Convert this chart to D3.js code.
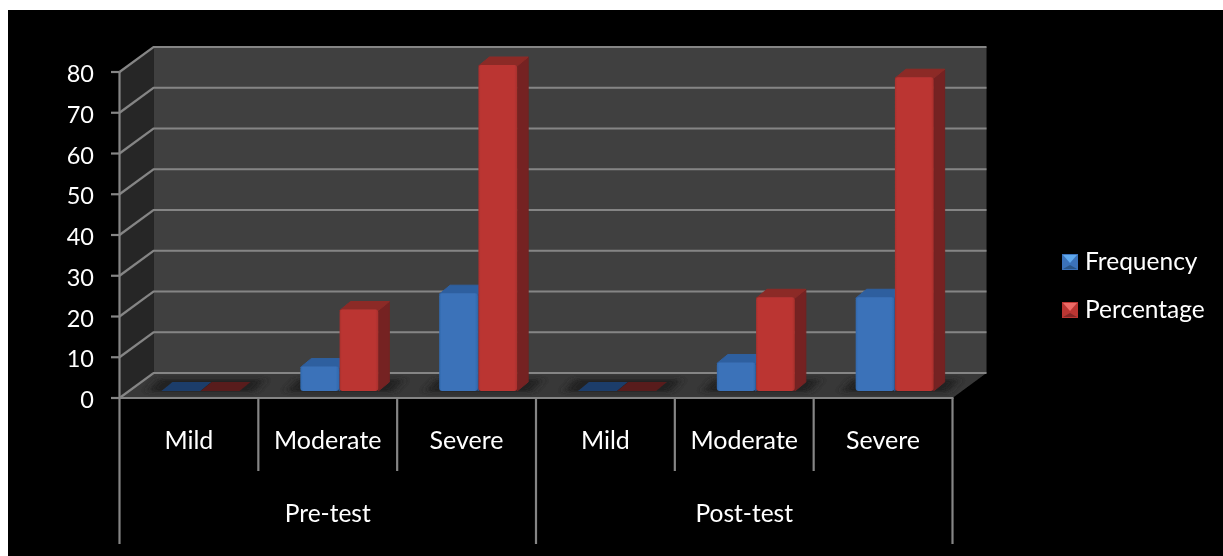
<!DOCTYPE html>
<html>
<head>
<meta charset="utf-8">
<script src="https://cdnjs.cloudflare.com/ajax/libs/d3/7.8.5/d3.min.js"></script>
<style>
  html, body { margin: 0; padding: 0; background: #fff; }
  svg { display: block; }
  text { font-family: Lato, "Open Sans", sans-serif; fill: #fff; }
</style>
</head>
<body>
<svg id="chart" width="1223" height="556"></svg>
<script>
const groups = ["Pre-test", "Post-test"];
const levels = ["Mild", "Moderate", "Severe"];
const frequency  = [0, 6, 24, 0, 7, 23];
const percentage = [0, 20, 80, 0, 23, 77];
const yTicks = [0, 10, 20, 30, 40, 50, 60, 70, 80];

const seriesNames = ["Frequency", "Percentage"];
const seriesValues = [frequency, percentage];
const colors = [
    { front: "#3a72b9", edge: "#3168ac", top: "#2f5f9f", side: "#2a5187", flat: "#1f3e6b", light: "#5fa8ec", dark: "#2a5587" },
    { front: "#bb3633", edge: "#a92f2c", top: "#8c2b28", side: "#742321", flat: "#591d1d", light: "#ee6a66", dark: "#852826" }
];

const svgRoot = d3.select("#chart");
svgRoot.append("rect").attr("x", 8).attr("y", 10).attr("width", 1215).attr("height", 546).attr("fill", "#000");

// ── Defs ─────────────────────────────────────────────────────────────────────
const defs = svgRoot.append("defs");
defs.append("filter").attr("id", "soft").attr("x", "-20%").attr("y", "-80%").attr("width", "140%").attr("height", "260%")
    .append("feGaussianBlur").attr("stdDeviation", "5 2");
// the reference is a slightly soft bitmap
defs.append("filter").attr("id", "aa").attr("filterUnits", "userSpaceOnUse")
    .attr("x", 0).attr("y", 0).attr("width", 1223).attr("height", 556)
    .append("feGaussianBlur").attr("stdDeviation", 0.4);
colors.forEach((c, i) => {
    const g = defs.append("linearGradient").attr("id", "face" + i);
    [[0, c.edge], [0.06, c.front], [0.92, c.front], [1, c.edge]].forEach(s =>
        g.append("stop").attr("offset", s[0]).attr("stop-color", s[1]));
});

const svg = svgRoot.append("g").attr("filter", "url(#aa)");

// ── Scales ───────────────────────────────────────────────────────────────────
const cats = d3.range(6);
const x = d3.scaleBand().domain(cats).range([119.5, 952.5]);
const y = d3.scaleLinear().domain([0, 80]).range([398, 72]);
const inner = d3.scaleBand().domain(d3.range(2)).range([0, 78.5]);
const group = d3.scaleBand().domain(groups).range([119.5, 952.5]);

// oblique projection
const DX = 34, DY = 25;        // full depth of the box
const BAR_DX = 11, BAR_DY = 9; // depth of one bar
const BASE_DX = 9.5, BASE_DY = 7; // bar front face, measured from the box front
const BAR_LEFT = 32.5;         // first bar inside its shifted band

const left = x.range()[0], right = x.range()[1];
const poly = pts => pts.map(p => p.join(",")).join(" ");

// ── Walls and floor ──────────────────────────────────────────────────────────
svg.append("polygon").attr("fill", "#404040")
    .attr("points", poly([[left + DX, y(80) - DY], [right + DX, y(80) - DY], [right + DX, y(0) - DY], [left + DX, y(0) - DY]]));
svg.append("polygon").attr("fill", "#282828")
    .attr("points", poly([[left, y(80)], [left + DX, y(80) - DY], [left + DX, y(0) - DY], [left, y(0)]]));
svg.append("polygon").attr("fill", "#383838")
    .attr("points", poly([[left, y(0)], [right, y(0)], [right + DX, y(0) - DY], [left + DX, y(0) - DY]]));

// ── Gridlines ────────────────────────────────────────────────────────────────
const gridColor = "#858585";
svg.append("g").selectAll("polyline").data(yTicks).join("polyline")
    .attr("fill", "none").attr("stroke", gridColor).attr("stroke-width", 2.2)
    .attr("points", d => poly([[left, y(d)], [left + DX, y(d) - DY], [right + DX, y(d) - DY]]));

// ── Floor shadows ────────────────────────────────────────────────────────────
svg.append("g").selectAll("polygon").data(cats).join("polygon")
    .attr("fill", "#242424").attr("filter", "url(#soft)")
    .attr("points", c => {
        const x0 = x(c) + BASE_DX + BAR_LEFT - 14, x1 = x0 + 78.5 + 28 + BAR_DX;
        const yb = y(0) - BASE_DY + 1;
        return poly([[x0, yb], [x1 - BAR_DX, yb], [x1, yb - BAR_DY - 4], [x0 + BAR_DX, yb - BAR_DY - 4]]);
    });

// ── Bars ─────────────────────────────────────────────────────────────────────
const bars = cats.flatMap(c => seriesValues.map((vals, s) => ({ c, s, v: vals[c] })));
const barG = svg.append("g").selectAll("g").data(bars).join("g")
    .attr("transform", d => `translate(${x(d.c) + BASE_DX + BAR_LEFT + inner(d.s)},${-BASE_DY})`);
const barW = inner.bandwidth() - 0.5;
const topY = d => d.v > 0 ? y(d.v) + 1 : y(0); // stroked tops sit a pixel lower, flat ones do not

barG.filter(d => d.v > 0).append("polygon")
    .attr("fill", d => colors[d.s].side).attr("stroke", d => colors[d.s].side).attr("stroke-linejoin", "round")
    .attr("points", d => poly([[barW, topY(d)], [barW + BAR_DX, topY(d) - BAR_DY], [barW + BAR_DX, y(0) - BAR_DY], [barW, y(0)]]));
barG.append("polygon")
    .attr("fill", d => d.v > 0 ? colors[d.s].top : colors[d.s].flat)
    .attr("stroke", d => d.v > 0 ? colors[d.s].top : "none").attr("stroke-linejoin", "round")
    .attr("points", d => poly([[0, topY(d)], [BAR_DX, topY(d) - BAR_DY], [barW + BAR_DX, topY(d) - BAR_DY], [barW, topY(d)]]));
barG.filter(d => d.v > 0).append("rect")
    .attr("x", 0).attr("width", barW).attr("rx", 3)
    .attr("y", d => y(d.v)).attr("height", d => y(0) - y(d.v))
    .attr("fill", d => `url(#face${d.s})`);

// ── Axes ─────────────────────────────────────────────────────────────────────
const axisG = svg.append("g").attr("stroke", gridColor).attr("stroke-width", 2.2);
axisG.append("line").attr("x1", left).attr("x2", left).attr("y1", y(80)).attr("y2", y(0));
axisG.append("line").attr("x1", 111).attr("x2", right + 1).attr("y1", y(0)).attr("y2", y(0));
axisG.selectAll("line.ytick").data(yTicks).join("line").attr("class", "ytick")
    .attr("x1", 111).attr("x2", left).attr("y1", d => y(d)).attr("y2", d => y(d));

// category separators are short, group separators run to the bottom
const edges = d3.range(7).map(i => i < 6 ? x(i) : right);
axisG.selectAll("line.xtick").data(edges).join("line").attr("class", "xtick")
    .attr("x1", d => d).attr("x2", d => d).attr("y1", y(0))
    .attr("y2", (d, i) => i % 3 === 0 ? 544 : 471);

svg.append("g").selectAll("text").data(yTicks).join("text")
    .attr("x", 94).attr("y", d => y(d) + 2).attr("dy", "0.35em").attr("text-anchor", "end")
    .attr("font-size", 23.5).text(d => d);

svg.append("g").selectAll("text").data(cats).join("text")
    .attr("x", c => x(c) + x.bandwidth() / 2).attr("y", 449).attr("text-anchor", "middle")
    .attr("font-size", 25).text(c => levels[c % 3]);

svg.append("g").selectAll("text").data(groups).join("text")
    .attr("x", g => group(g) + group.bandwidth() / 2).attr("y", 522).attr("text-anchor", "middle")
    .attr("font-size", 24.5).text(g => g);

// ── Legend ───────────────────────────────────────────────────────────────────
const legend = svg.append("g").selectAll("g").data(seriesNames).join("g")
    .attr("transform", (d, i) => `translate(1062,${254 + i * 48})`);
const S = 16, cx = 8, cy = 9;
legend.append("rect").attr("width", S).attr("height", S).attr("fill", (d, i) => colors[i].front);
legend.append("polygon").attr("fill", (d, i) => colors[i].light)
    .attr("points", poly([[1, 1], [S - 1, 1], [cx, cy]]));
legend.append("polygon").attr("fill", (d, i) => colors[i].dark)
    .attr("points", poly([[1, S - 1], [S - 1, S - 1], [cx, cy + 2]]));
legend.append("text").attr("x", 23).attr("y", 15.5).attr("font-size", 24.5).text(d => d);
</script>
</body>
</html>
